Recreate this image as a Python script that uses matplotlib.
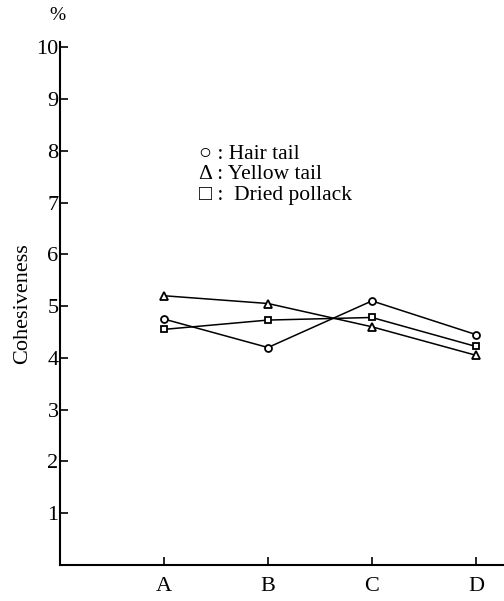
import numpy as np
import matplotlib
matplotlib.use("Agg")
from matplotlib import pyplot as plt

## Data
groups = ["A", "B", "C", "D"]
hair_tail = [4.75, 4.2, 5.1, 4.45]
yellow_tail = [5.2, 5.05, 4.6, 4.05]
dried_pollack = [4.55, 4.73, 4.78, 4.22]
y_ticks = [1, 2, 3, 4, 5, 6, 7, 8, 9, 10]

plt.rcParams['font.family'] = ['Liberation Serif', 'DejaVu Serif']

fig = plt.figure(figsize=(5.04, 6.01), dpi=100)
ax = fig.add_axes([0.119, 0.060, 0.881, 0.870])

x = np.arange(1, len(groups) + 1)
ax.plot(x, hair_tail, color='black', lw=1.1, marker='o', ms=5, mfc='white', mec='black', mew=1.3)
ax.plot(x, yellow_tail, color='black', lw=1.1, marker='^', ms=5.5, mfc='white', mec='black', mew=1.3)
ax.plot(x, dried_pollack, color='black', lw=1.1, marker='s', ms=4.5, mfc='white', mec='black', mew=1.3)

ax.set_xlim(0, 4.27)
ax.set_ylim(0, 10.1)
ax.spines['top'].set_visible(False)
ax.spines['right'].set_visible(False)
ax.spines['left'].set_linewidth(1.5)
ax.spines['bottom'].set_linewidth(1.5)

ax.set_xticks(x)
ax.set_xticklabels(groups, fontsize=16)
ax.set_yticks(y_ticks)
ax.set_yticklabels([str(v) for v in y_ticks], fontsize=16)
ax.tick_params(axis='both', direction='in', length=6, width=1.2, pad=1)
ax.tick_params(axis='x', pad=9)

ax.set_ylabel("Cohesiveness", fontsize=16, labelpad=3)
ax.text(-0.02, 10.45, "%", fontsize=14, ha='center', va='bottom')

## Legend drawn as text
fig.text(0.395, 0.743, "\u25cb : Hair tail", fontsize=15.5, va='center')
fig.text(0.395, 0.709, "\u0394 : Yellow tail", fontsize=15.5, va='center')
fig.text(0.395, 0.675, "\u25a1 :  Dried pollack", fontsize=15.5, va='center')

fig.savefig("out.png", dpi=100)
